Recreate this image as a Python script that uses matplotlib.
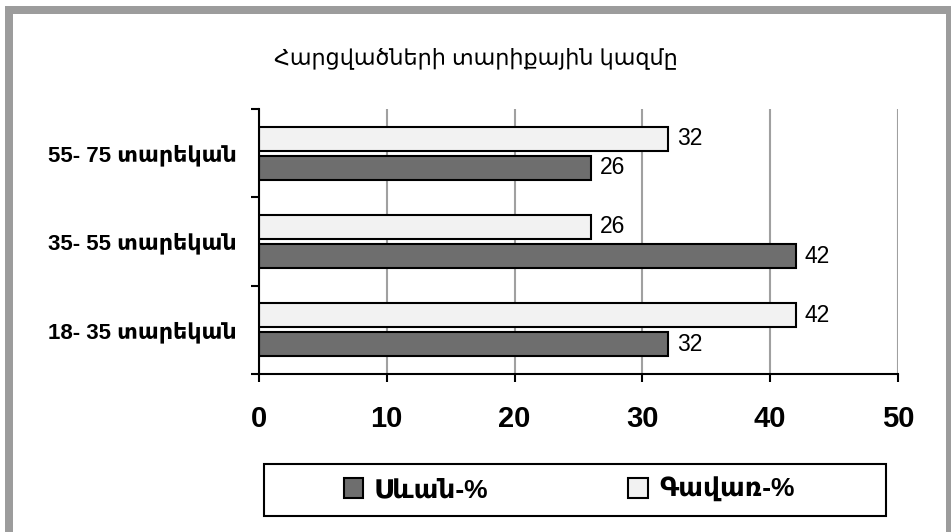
import matplotlib
matplotlib.use('Agg')
import matplotlib.pyplot as plt
from matplotlib.patches import Rectangle
import numpy as np

# data
categories = ['18- 35 տարեկան', '35- 55 տարեկան', '55- 75 տարեկան']
sevan = [32, 42, 26]
gavar = [42, 26, 32]
series_names = ['Սևան-%', 'Գավառ-%']
xticks = [0, 10, 20, 30, 40, 50]

FONTS = ['Liberation Sans', 'DejaVu Sans']
plt.rcParams['font.family'] = FONTS

DARK = '#6e6e6e'
LIGHT = '#f2f2f2'
GRID = '#a0a0a0'

W, H = 951, 532
fig = plt.figure(figsize=(W / 100, H / 100), dpi=100)
fig.patch.set_facecolor('white')

# gray frame around the chart area
frame = Rectangle((9 / W, -0.1), (950 - 9) / W, 1 - 9.5 / H + 0.1,
                  transform=fig.transFigure, fill=False,
                  edgecolor='#9c9c9c', lw=8 * 0.72)
fig.patches.append(frame)

ax = fig.add_axes([259 / W, 1 - 374 / H, (898 - 259) / W, (374 - 109) / H])

y = np.arange(len(categories))
h = 0.27
off = 0.165
b1 = ax.barh(y - off, sevan, height=h, color=DARK, edgecolor='black', lw=1.5,
             label=series_names[0], zorder=3)
b2 = ax.barh(y + off, gavar, height=h, color=LIGHT, edgecolor='black', lw=1.5,
             label=series_names[1], zorder=3)

for bars in (b1, b2):
    for r in bars:
        ax.text(r.get_width() + 0.7, r.get_y() + r.get_height() / 2,
                f'{r.get_width():g}', va='center', ha='left', fontsize=16.5,
                color='black')

ax.set_xlim(0, 50)
ax.set_ylim(-0.5, len(categories) - 0.5)

ax.set_xticks(xticks)
ax.set_xticklabels([str(t) for t in xticks], fontsize=21, fontweight='bold')
ax.tick_params(axis='x', direction='out', length=6, width=1.5, pad=16)

ax.set_yticks(np.arange(len(categories) + 1) - 0.5)
ax.set_yticklabels([])
ax.set_yticks(y, minor=True)
ax.set_yticklabels(categories, minor=True, fontsize=16, fontweight='bold')
ax.tick_params(axis='y', which='major', direction='out', length=6, width=1.5)
ax.tick_params(axis='y', which='minor', length=0, pad=16)

ax.grid(axis='x', color=GRID, lw=1.5, zorder=0)
for s in ['top', 'right']:
    ax.spines[s].set_visible(False)
for s in ['left', 'bottom']:
    ax.spines[s].set_linewidth(1.5)
    ax.spines[s].set_zorder(4)

fig.text(476 / W, 1 - 58 / H, 'Հարցվածների տարիքային կազմը',
         ha='center', va='center', fontsize=16)

# legend box drawn separately so its size matches
legbox = Rectangle((264 / W, 1 - 516 / H), (886 - 264) / W, (516 - 464) / H,
                   transform=fig.transFigure, fill=False, edgecolor='black', lw=1.5)
fig.patches.append(legbox)
leg = fig.legend(handles=[b1, b2], labels=series_names, loc='center',
                 bbox_to_anchor=(569 / W, 1 - 490 / H), ncol=2,
                 prop={'size': 19, 'weight': 'bold'}, frameon=False,
                 handlelength=0.75, handleheight=0.75, handletextpad=0.4,
                 columnspacing=5.3, borderaxespad=0)

fig.savefig('out.png', dpi=100, facecolor='white')
